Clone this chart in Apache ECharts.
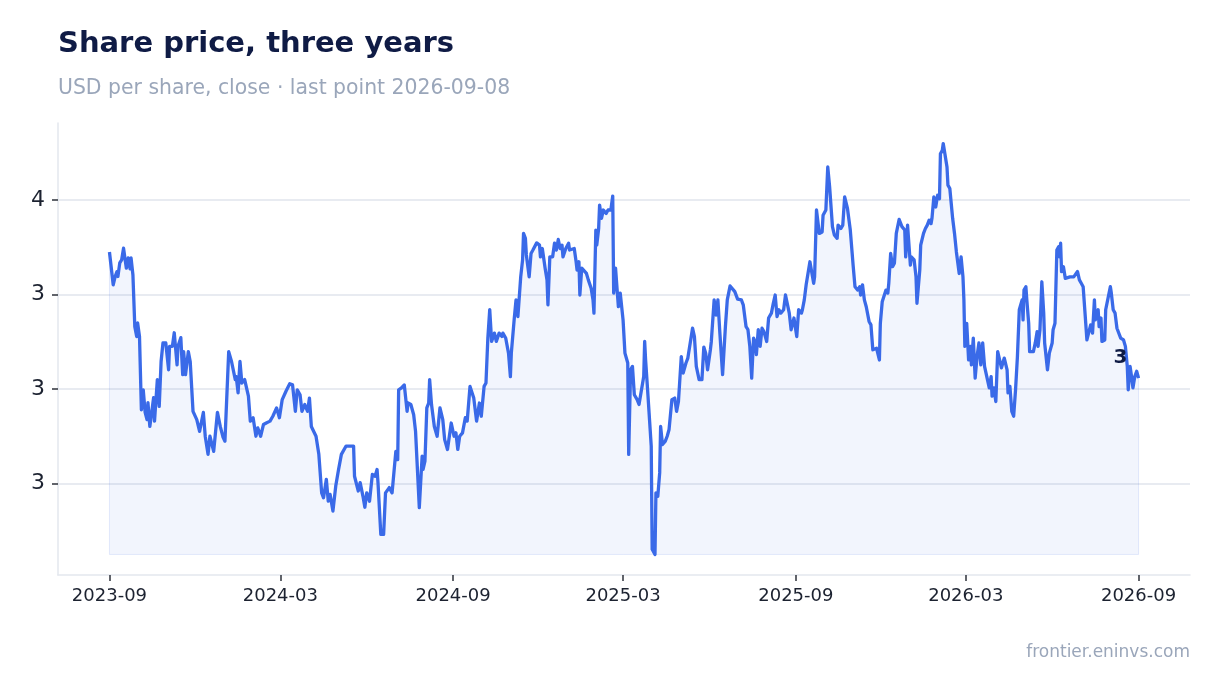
<!DOCTYPE html>
<html>
<head>
<meta charset="utf-8">
<title>Share price, three years</title>
<script src="https://cdn.jsdelivr.net/npm/echarts@6/dist/echarts.min.js"></script>
<style>
html, body { margin: 0; padding: 0; background: #ffffff; }
#chart { width: 1220px; height: 693px; }
</style>
</head>
<body>
<div id="chart"></div>
<script>
// closing prices; day offsets are counted from startDate
var startDate = '2023-09-08';

var dayOffsets = [
    0, 4, 6, 8, 9, 11, 13, 15, 18, 20, 22, 23, 25, 27, 29, 30, 32, 34, 36, 38,
    40, 41, 43, 45, 47, 48, 51, 53, 55, 57, 60, 63, 64, 67, 69, 72, 73, 76, 78, 79,
    81, 84, 86, 89, 93, 96, 100, 102, 105, 107, 111, 115, 118, 121, 123, 127, 130, 134,
    135, 137, 139, 141, 144, 148, 150, 153, 156, 158, 161, 164, 167, 171, 174, 178, 181, 184, 188, 192,
    195, 198, 200, 203, 205, 208, 211, 213, 215, 217, 220, 223, 226, 228, 231, 233, 235, 238, 241, 244,
    247, 249, 252, 256, 260, 261, 265, 267, 270, 272,
    274, 277, 280, 283, 285, 286, 289, 292, 294, 298, 301, 303, 305, 307, 308, 311, 314, 317, 318, 321,
    324, 326, 330, 333, 334, 336, 338, 340, 341, 343, 346, 349, 352, 355, 357, 360, 362, 364, 367, 369,
    371, 373, 376, 379, 381, 384, 386, 388, 391, 394, 396, 399, 401, 403, 405, 407, 410,
    412, 415, 418, 419, 422, 425, 427, 428, 431, 433, 435, 438, 440, 441, 443, 444, 447, 449, 451, 455,
    458, 459, 461, 464, 466, 467, 469, 472, 474, 476, 478, 480, 482, 483, 486, 489, 490, 492, 495, 497,
    498, 500, 501, 503, 505, 508, 510, 513, 515, 516, 518, 519, 521, 522, 524, 526, 529, 531, 534, 536,
    537, 539, 542, 544, 547, 549,
    552, 553, 555, 557, 559, 562, 564, 566, 569, 570, 571, 573, 575, 577, 578, 581, 582, 584, 586, 587,
    589, 592, 594, 596, 598, 599, 602, 604, 606, 609, 611, 614, 616, 618, 621, 623, 625, 628, 631, 633,
    635, 637, 640, 641, 644, 646, 648, 650, 653, 656, 658, 661, 663, 666, 669, 673, 675, 678, 680, 682,
    684, 686, 688, 689, 691, 693, 695, 697, 700, 702, 705, 707, 709, 711, 713, 715, 718, 720, 721, 724,
    726, 728, 729, 732, 734, 737, 738, 740, 742, 744, 746, 748, 750, 751, 753, 756, 759, 760, 763, 765,
    767, 770, 772, 775, 776, 779, 781, 783, 784, 786, 789, 791, 792, 794, 797, 799, 800, 802, 804, 806,
    809, 811, 813, 815, 817, 820,
    821, 823, 825, 827, 829, 830, 832, 834, 836, 838, 841, 844, 847, 848, 850, 853, 854, 857, 859, 860,
    863, 864, 867, 869, 871, 873, 875, 876, 878, 880, 882, 884, 885, 887, 888, 890, 892, 893, 895, 896,
    898, 900, 902, 905, 907, 909, 910, 911, 913, 915, 917, 918, 920, 922, 924, 926, 928, 930, 932, 934,
    937, 939, 940, 942, 944, 946, 948, 950, 953, 956, 957, 959, 961, 963, 965, 967, 969, 970, 972, 973,
    974, 976, 977, 979, 980, 982, 984, 986, 988, 989, 991, 993, 995, 996, 999, 1001, 1004, 1005, 1007, 1009,
    1011, 1012, 1013, 1014, 1016, 1018, 1020, 1023, 1027, 1029, 1031, 1033, 1035, 1037, 1039, 1041, 1043, 1045, 1047, 1049,
    1050, 1053, 1054, 1056, 1057, 1060, 1061, 1063, 1066, 1067, 1069, 1071, 1073, 1075, 1077, 1080, 1082, 1084, 1085, 1087,
    1089, 1090, 1092, 1094, 1096
];

var closes = [
    3.863, 3.776, 3.797, 3.811, 3.798, 3.834, 3.842, 3.873, 3.820, 3.847,
    3.818, 3.847, 3.802, 3.665, 3.639, 3.675, 3.639, 3.445, 3.498, 3.438,
    3.419, 3.464, 3.401, 3.438, 3.477, 3.415, 3.525, 3.454, 3.573, 3.622,
    3.622, 3.551, 3.613, 3.613, 3.649, 3.564, 3.613, 3.636, 3.538, 3.599,
    3.538, 3.599, 3.573, 3.441, 3.419, 3.388, 3.438, 3.375, 3.327, 3.375,
    3.335, 3.438, 3.401, 3.372, 3.362, 3.599, 3.573, 3.525,
    3.533, 3.490, 3.573, 3.516, 3.525, 3.481, 3.415, 3.424, 3.375, 3.397,
    3.375, 3.406, 3.410, 3.415, 3.428, 3.450, 3.424, 3.472, 3.494, 3.514,
    3.511, 3.441, 3.498, 3.485, 3.441, 3.459, 3.441, 3.476, 3.401, 3.401,
    3.375, 3.327, 3.225, 3.212, 3.261, 3.203, 3.221, 3.177, 3.243, 3.287,
    3.327, 3.327, 3.349, 3.349, 3.349, 3.269, 3.230, 3.252, 3.216, 3.187,
    3.225, 3.203, 3.274, 3.269, 3.287, 3.252, 3.115, 3.115, 3.225, 3.239,
    3.225, 3.230, 3.335, 3.313, 3.498, 3.503, 3.511, 3.441, 3.463, 3.459,
    3.432, 3.388, 3.186, 3.322, 3.287, 3.309, 3.450, 3.463, 3.525, 3.459,
    3.401, 3.375, 3.450, 3.419, 3.366, 3.340, 3.375, 3.410, 3.375, 3.384,
    3.340, 3.375, 3.384, 3.424, 3.415, 3.507, 3.511, 3.476, 3.415, 3.463,
    3.428, 3.507, 3.516, 3.635, 3.710, 3.626, 3.648,
    3.626, 3.648, 3.639, 3.648, 3.635, 3.595, 3.533, 3.595, 3.683, 3.736,
    3.692, 3.797, 3.842, 3.912, 3.899, 3.855, 3.797, 3.859, 3.868, 3.887,
    3.881, 3.850, 3.872, 3.820, 3.789, 3.723, 3.850, 3.850, 3.886, 3.868,
    3.896, 3.872, 3.881, 3.850, 3.872, 3.886, 3.868, 3.868, 3.872, 3.837,
    3.815, 3.837, 3.749, 3.820, 3.820, 3.806, 3.789, 3.767, 3.736, 3.701,
    3.921, 3.881, 3.925, 3.987, 3.952, 3.974, 3.965, 3.974, 3.974, 4.011,
    3.754, 3.820, 3.718, 3.754, 3.683, 3.595,
    3.569, 3.327, 3.551, 3.560, 3.485, 3.472, 3.459, 3.454, 3.533, 3.626,
    3.577, 3.503, 3.507, 3.349, 3.076, 3.062, 3.225, 3.216, 3.278, 3.401,
    3.353, 3.362, 3.375, 3.393, 3.388, 3.472, 3.476, 3.441, 3.467, 3.586,
    3.542, 3.569, 3.582, 3.582, 3.661, 3.639, 3.560, 3.525, 3.525, 3.611,
    3.595, 3.551, 3.604, 3.626, 3.736, 3.696, 3.736, 3.652, 3.538, 3.665,
    3.736, 3.773, 3.773, 3.758, 3.738, 3.736, 3.723, 3.665, 3.657, 3.613,
    3.529, 3.635, 3.622, 3.591, 3.657, 3.613, 3.661, 3.652, 3.626, 3.688,
    3.701, 3.727, 3.749, 3.692, 3.710, 3.701, 3.710, 3.749, 3.745, 3.701,
    3.657, 3.652, 3.688, 3.639, 3.710, 3.701, 3.710, 3.736, 3.776, 3.776,
    3.837, 3.833, 3.780, 3.797, 3.974, 3.912, 3.916, 3.960, 3.974, 4.088,
    4.035, 3.930, 3.908, 3.899, 3.934, 3.925, 3.934, 4.009, 4.013, 3.978,
    3.921, 3.859, 3.828, 3.771, 3.762, 3.771, 3.749, 3.776, 3.736, 3.718,
    3.679, 3.670, 3.604, 3.604, 3.608, 3.577,
    3.674, 3.731, 3.727, 3.762, 3.754, 3.780, 3.859, 3.824, 3.833, 3.912,
    3.949, 3.930, 3.921, 3.850, 3.934, 3.828, 3.850, 3.842, 3.797, 3.727,
    3.815, 3.881, 3.912, 3.925, 3.934, 3.947, 3.938, 3.952, 4.009, 3.982,
    4.013, 4.004, 4.123, 4.132, 4.150, 4.150, 4.088, 4.040, 4.031, 4.035,
    3.952, 3.912, 3.863, 3.806, 3.850, 3.797, 3.736, 3.613, 3.674, 3.577,
    3.613, 3.564, 3.635, 3.529, 3.586, 3.622, 3.564, 3.622, 3.560, 3.560,
    3.503, 3.533, 3.481, 3.503, 3.467, 3.599, 3.595, 3.556, 3.582, 3.551,
    3.490, 3.507, 3.441, 3.428, 3.498, 3.586, 3.710, 3.714, 3.736, 3.683,
    3.762, 3.771, 3.736, 3.674, 3.599, 3.604, 3.599, 3.622, 3.652, 3.613,
    3.657, 3.784, 3.701, 3.622, 3.551, 3.595, 3.622, 3.657, 3.674, 3.868,
    3.877, 3.850, 3.886, 3.811, 3.824, 3.793, 3.789, 3.797, 3.797, 3.802,
    3.811, 3.789, 3.780, 3.771, 3.701, 3.630, 3.626, 3.670, 3.648, 3.736,
    3.683, 3.710, 3.665, 3.688, 3.626, 3.630, 3.710, 3.714, 3.771, 3.754,
    3.710, 3.701, 3.661, 3.657, 3.635, 3.630, 3.613, 3.560, 3.498, 3.560,
    3.525, 3.503, 3.533, 3.547, 3.529
];

var xTickDates = ['2023-09-08', '2024-03-08', '2024-09-08', '2025-03-08', '2025-09-08', '2026-03-08', '2026-09-08'];
var yTickValues = [3.25, 3.5, 3.75, 4];

var DAY = 86400000;
var FONT = 'DejaVu Sans';
var t0 = Date.parse(startDate + 'T00:00:00Z');

var points = dayOffsets.map(function(d, i) {
    return [t0 + d * DAY, closes[i]];
});
var first = points[0];
var last = points[points.length - 1];
var lo = Math.min.apply(null, closes);
var hi = Math.max.apply(null, closes);
var xPad = (last[0] - first[0]) * 0.05;
var yPad = (hi - lo) * 0.05;

var xTicks = xTickDates.map(function(s) { return Date.parse(s + 'T00:00:00Z'); });

var monthLabel = function(v) {
    var d = new Date(v);
    var m = d.getUTCMonth() + 1;
    return d.getUTCFullYear() + '-' + (m < 10 ? '0' + m : m);
};

var option = {
    animation: false,
    backgroundColor: '#ffffff',
    title: [{
        text: 'Share price, three years',
        left: 58,
        top: 30,
        padding: 0,
        textStyle: {fontFamily: FONT, fontSize: 29, fontWeight: 'bold', color: '#0f1b45'}
    }, {
        text: 'USD per share, close · last point 2026-09-08',
        left: 58,
        top: 79,
        padding: 0,
        textStyle: {fontFamily: FONT, fontSize: 20.4, fontWeight: 'normal', color: '#9aa6ba'}
    }, {
        text: 'frontier.eninvs.com',
        right: 30,
        top: 644,
        padding: 0,
        textStyle: {fontFamily: FONT, fontSize: 17, fontWeight: 'normal', color: '#9aa6ba'}
    }],
    grid: {left: 58, right: 30, top: 123, bottom: 118},
    // dates as a plain value axis so the half-year ticks can be placed by hand
    xAxis: {
        type: 'value',
        min: first[0] - xPad,
        max: last[0] + xPad,
        axisLine: {show: true, lineStyle: {color: '#e3e7ee', width: 1.5}},
        axisTick: {show: true, length: 6, customValues: xTicks, lineStyle: {color: '#2e323b', width: 1.5}},
        axisLabel: {
            customValues: xTicks,
            formatter: monthLabel,
            fontFamily: FONT,
            fontSize: 18,
            color: '#1c2230',
            margin: 12
        },
        splitLine: {show: false}
    },
    yAxis: {
        type: 'value',
        min: lo - yPad,
        max: hi + yPad,
        axisLine: {show: true, lineStyle: {color: '#e3e7ee', width: 1.5}},
        axisTick: {show: true, length: 6, customValues: yTickValues, lineStyle: {color: '#2e323b', width: 1.5}},
        axisLabel: {
            customValues: yTickValues,
            formatter: function(v) { return String(Math.floor(v)); },
            fontFamily: FONT,
            fontSize: 22,
            color: '#1c2230',
            margin: 13,
            padding: [4, 0, 0, 0]
        },
        splitLine: {show: true, lineStyle: {color: '#e1e5ed', width: 1.5}}
    },
    series: [{
        type: 'line',
        name: 'outline',
        data: [first, [first[0], lo], [last[0], lo], last],
        symbol: 'none',
        silent: true,
        lineStyle: {color: 'rgba(59,107,230,0.12)', width: 1},
        z: 1
    }, {
        type: 'line',
        name: 'Close',
        data: points,
        symbol: 'none',
        lineStyle: {color: '#3a6ae8', width: 3.3, join: 'round'},
        areaStyle: {color: 'rgba(59,107,230,0.095)', origin: lo},
        z: 2,
        markPoint: {
            symbol: 'circle',
            symbolSize: 1,
            itemStyle: {color: 'rgba(0,0,0,0)'},
            label: {
                show: true,
                position: 'inside',
                offset: [-18, -20],
                formatter: function(p) { return String(Math.floor(p.value)); },
                fontFamily: FONT,
                fontSize: 20,
                fontWeight: 'bold',
                color: '#0f1b45'
            },
            data: [{coord: last, value: last[1]}]
        }
    }]
};

var chart = echarts.init(document.getElementById('chart'));
chart.setOption(option);
</script>
</body>
</html>
